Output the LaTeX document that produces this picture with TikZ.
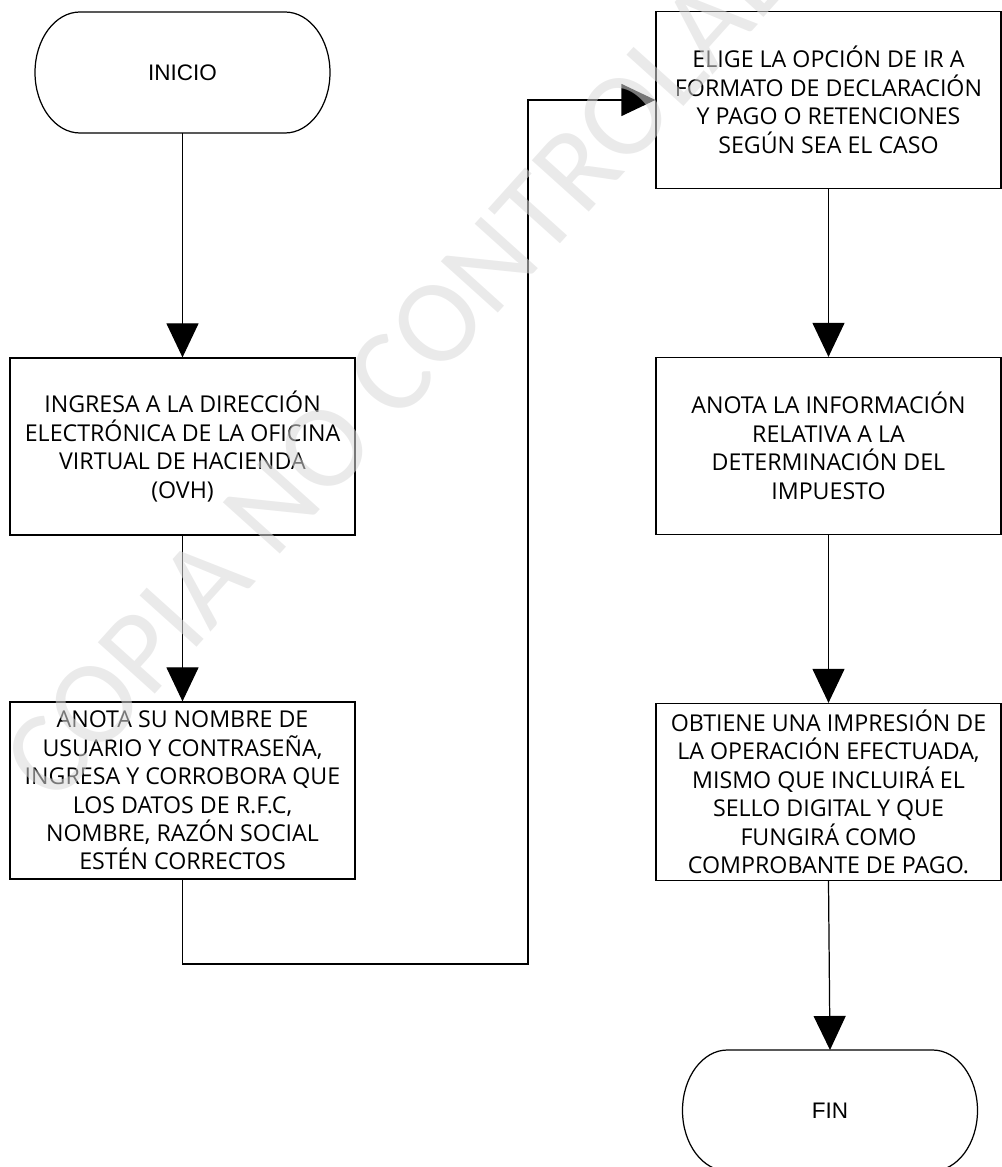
\documentclass[tikz,border=0pt]{standalone}
\usepackage{fontspec}
\setmainfont{Open Sans}
\newfontfamily\arialfont{Liberation Sans}
\newfontfamily\marcafont{Carlito}
\usetikzlibrary{arrows.meta, calc}

\tikzset{
  caja/.style={draw, line width=0.7pt, minimum width=6.9cm, minimum height=3.54cm,
    align=center, inner sep=1pt, font=\fontsize{13.2}{16.2}\selectfont},
  terminal/.style={minimum width=5.9cm, minimum height=2.42cm, outer sep=0pt,
    font=\arialfont\fontsize{12.8}{15}\selectfont},
  flecha/.style={line width=0.7pt, -{Triangle[length=6.8mm, width=6.4mm]}},
}

% contorno de un terminal (extremos elipticos)
\newcommand{\contorno}[1]{%
  \draw[line width=0.7pt] ([xshift=0.9cm]#1.north west) -- ([xshift=-0.9cm]#1.north east)
    arc[start angle=90, end angle=-90, x radius=0.9cm, y radius=1.21cm]
    -- ([xshift=0.9cm]#1.south west)
    arc[start angle=270, end angle=90, x radius=0.9cm, y radius=1.21cm] -- cycle;}

\begin{document}
\begin{tikzpicture}
        \useasboundingbox (0,0) rectangle (20.02,23.34);

        \coordinate (C1) at (10.56,4.06);

        \node[terminal] (inicio) at (3.65,21.89) {INICIO};
        \contorno{inicio}

        \node[caja] (ingresa) at (3.65,14.41) {INGRESA A LA DIRECCIÓN\\ELECTRÓNICA DE LA OFICINA\\VIRTUAL DE HACIENDA\\(OVH)};
        \node[caja] (anota) at (3.65,7.53) {ANOTA SU NOMBRE DE\\USUARIO Y CONTRASEÑA,\\INGRESA Y CORROBORA QUE\\LOS DATOS DE R.F.C,\\NOMBRE, RAZÓN SOCIAL\\ESTÉN CORRECTOS};

        \node[caja] (elige) at (16.57,21.34) {ELIGE LA OPCIÓN DE IR A\\FORMATO DE DECLARACIÓN\\Y PAGO O RETENCIONES\\SEGÚN SEA EL CASO};
        \node[caja] (info) at (16.57,14.42) {ANOTA LA INFORMACIÓN\\RELATIVA A LA\\DETERMINACIÓN DEL\\IMPUESTO};
        \node[caja] (obtiene) at (16.57,7.50) {OBTIENE UNA IMPRESIÓN DE\\LA OPERACIÓN EFECTUADA,\\MISMO QUE INCLUIRÁ EL\\SELLO DIGITAL Y QUE\\FUNGIRÁ COMO\\COMPROBANTE DE PAGO.};

        \node[terminal] (fin) at (16.6,1.13) {FIN};
        \contorno{fin}

        \draw[flecha] (inicio) -- (ingresa);
        \draw[flecha] (ingresa) -- (anota);
        \draw[flecha] (anota.south) |- (C1) |- (elige.west);
        \draw[flecha] (elige) -- (info);
        \draw[flecha] (info) -- (obtiene);
        \draw[flecha] (obtiene.south) -- (fin.north);

        % marca de agua
        \node[rotate=48, text=white!85!black, opacity=0.55, font=\marcafont\fontsize{68}{68}\selectfont] (marca) at (8.5,16.6) {COPIA NO CONTROLADA};
\end{tikzpicture}
\end{document}
